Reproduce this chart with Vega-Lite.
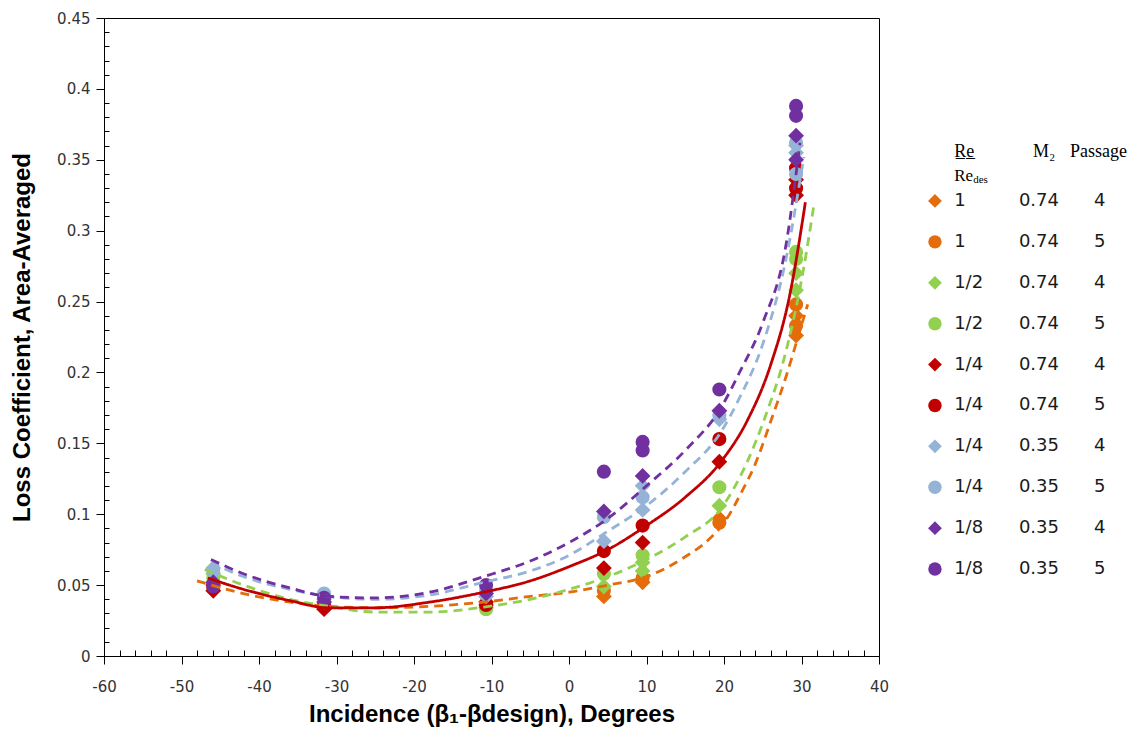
{
  "$schema": "https://vega.github.io/schema/vega-lite/v6.json",
  "background": "white",
  "padding": {"left": 10, "top": 10, "right": 0, "bottom": 0},
  "spacing": 11,
  "config": {"view": {"stroke": "black", "strokeWidth": 1}},
  "resolve": {"scale": {"x": "independent", "y": "independent", "color": "shared", "shape": "shared", "size": "independent"}},
  "datasets": {
    "points": [
      {"group": "1|0.74", "passage": "4", "incidence": -45.9, "loss": 0.050},
      {"group": "1|0.74", "passage": "4", "incidence": -31.6, "loss": 0.034},
      {"group": "1|0.74", "passage": "4", "incidence": -10.7, "loss": 0.036},
      {"group": "1|0.74", "passage": "4", "incidence": 4.5, "loss": 0.042},
      {"group": "1|0.74", "passage": "4", "incidence": 9.5, "loss": 0.052},
      {"group": "1|0.74", "passage": "4", "incidence": 19.4, "loss": 0.097},
      {"group": "1|0.74", "passage": "4", "incidence": 29.3, "loss": 0.240},
      {"group": "1|0.74", "passage": "4", "incidence": 29.3, "loss": 0.226},
      {"group": "1|0.74", "passage": "5", "incidence": -45.9, "loss": 0.048},
      {"group": "1|0.74", "passage": "5", "incidence": -31.6, "loss": 0.035},
      {"group": "1|0.74", "passage": "5", "incidence": -10.7, "loss": 0.037},
      {"group": "1|0.74", "passage": "5", "incidence": 4.5, "loss": 0.046},
      {"group": "1|0.74", "passage": "5", "incidence": 9.5, "loss": 0.055},
      {"group": "1|0.74", "passage": "5", "incidence": 19.4, "loss": 0.094},
      {"group": "1|0.74", "passage": "5", "incidence": 29.3, "loss": 0.248},
      {"group": "1|0.74", "passage": "5", "incidence": 29.3, "loss": 0.233},
      {"group": "1/2|0.74", "passage": "4", "incidence": -45.9, "loss": 0.058},
      {"group": "1/2|0.74", "passage": "4", "incidence": -31.6, "loss": 0.034},
      {"group": "1/2|0.74", "passage": "4", "incidence": -10.7, "loss": 0.034},
      {"group": "1/2|0.74", "passage": "4", "incidence": 4.5, "loss": 0.049},
      {"group": "1/2|0.74", "passage": "4", "incidence": 9.5, "loss": 0.060},
      {"group": "1/2|0.74", "passage": "4", "incidence": 9.5, "loss": 0.066},
      {"group": "1/2|0.74", "passage": "4", "incidence": 19.4, "loss": 0.106},
      {"group": "1/2|0.74", "passage": "4", "incidence": 29.3, "loss": 0.258},
      {"group": "1/2|0.74", "passage": "4", "incidence": 29.3, "loss": 0.270},
      {"group": "1/2|0.74", "passage": "5", "incidence": -45.9, "loss": 0.055},
      {"group": "1/2|0.74", "passage": "5", "incidence": -31.6, "loss": 0.036},
      {"group": "1/2|0.74", "passage": "5", "incidence": -10.7, "loss": 0.033},
      {"group": "1/2|0.74", "passage": "5", "incidence": 4.5, "loss": 0.058},
      {"group": "1/2|0.74", "passage": "5", "incidence": 9.5, "loss": 0.071},
      {"group": "1/2|0.74", "passage": "5", "incidence": 19.4, "loss": 0.119},
      {"group": "1/2|0.74", "passage": "5", "incidence": 29.3, "loss": 0.280},
      {"group": "1/2|0.74", "passage": "5", "incidence": 29.3, "loss": 0.285},
      {"group": "1/4|0.74", "passage": "4", "incidence": -45.9, "loss": 0.046},
      {"group": "1/4|0.74", "passage": "4", "incidence": -31.6, "loss": 0.033},
      {"group": "1/4|0.74", "passage": "4", "incidence": -10.7, "loss": 0.038},
      {"group": "1/4|0.74", "passage": "4", "incidence": 4.5, "loss": 0.062},
      {"group": "1/4|0.74", "passage": "4", "incidence": 9.5, "loss": 0.080},
      {"group": "1/4|0.74", "passage": "4", "incidence": 19.4, "loss": 0.137},
      {"group": "1/4|0.74", "passage": "4", "incidence": 29.3, "loss": 0.325},
      {"group": "1/4|0.74", "passage": "4", "incidence": 29.3, "loss": 0.336},
      {"group": "1/4|0.74", "passage": "5", "incidence": -45.9, "loss": 0.050},
      {"group": "1/4|0.74", "passage": "5", "incidence": -31.6, "loss": 0.036},
      {"group": "1/4|0.74", "passage": "5", "incidence": -10.7, "loss": 0.036},
      {"group": "1/4|0.74", "passage": "5", "incidence": 4.5, "loss": 0.074},
      {"group": "1/4|0.74", "passage": "5", "incidence": 9.5, "loss": 0.092},
      {"group": "1/4|0.74", "passage": "5", "incidence": 19.4, "loss": 0.153},
      {"group": "1/4|0.74", "passage": "5", "incidence": 29.3, "loss": 0.344},
      {"group": "1/4|0.74", "passage": "5", "incidence": 29.3, "loss": 0.330},
      {"group": "1/4|0.35", "passage": "4", "incidence": -45.9, "loss": 0.062},
      {"group": "1/4|0.35", "passage": "4", "incidence": -31.6, "loss": 0.040},
      {"group": "1/4|0.35", "passage": "4", "incidence": -10.7, "loss": 0.042},
      {"group": "1/4|0.35", "passage": "4", "incidence": 4.5, "loss": 0.081},
      {"group": "1/4|0.35", "passage": "4", "incidence": 9.5, "loss": 0.103},
      {"group": "1/4|0.35", "passage": "4", "incidence": 9.5, "loss": 0.120},
      {"group": "1/4|0.35", "passage": "4", "incidence": 19.4, "loss": 0.167},
      {"group": "1/4|0.35", "passage": "4", "incidence": 29.3, "loss": 0.355},
      {"group": "1/4|0.35", "passage": "4", "incidence": 29.3, "loss": 0.360},
      {"group": "1/4|0.35", "passage": "5", "incidence": -45.9, "loss": 0.060},
      {"group": "1/4|0.35", "passage": "5", "incidence": -31.6, "loss": 0.044},
      {"group": "1/4|0.35", "passage": "5", "incidence": -10.7, "loss": 0.046},
      {"group": "1/4|0.35", "passage": "5", "incidence": 4.5, "loss": 0.098},
      {"group": "1/4|0.35", "passage": "5", "incidence": 9.5, "loss": 0.112},
      {"group": "1/4|0.35", "passage": "5", "incidence": 19.4, "loss": 0.170},
      {"group": "1/4|0.35", "passage": "5", "incidence": 29.3, "loss": 0.340},
      {"group": "1/4|0.35", "passage": "5", "incidence": 29.3, "loss": 0.362},
      {"group": "1/8|0.35", "passage": "4", "incidence": -45.9, "loss": 0.052},
      {"group": "1/8|0.35", "passage": "4", "incidence": -31.6, "loss": 0.038},
      {"group": "1/8|0.35", "passage": "4", "incidence": -10.7, "loss": 0.044},
      {"group": "1/8|0.35", "passage": "4", "incidence": 4.5, "loss": 0.102},
      {"group": "1/8|0.35", "passage": "4", "incidence": 9.5, "loss": 0.127},
      {"group": "1/8|0.35", "passage": "4", "incidence": 19.4, "loss": 0.173},
      {"group": "1/8|0.35", "passage": "4", "incidence": 29.3, "loss": 0.367},
      {"group": "1/8|0.35", "passage": "4", "incidence": 29.3, "loss": 0.350},
      {"group": "1/8|0.35", "passage": "5", "incidence": -45.9, "loss": 0.049},
      {"group": "1/8|0.35", "passage": "5", "incidence": -31.6, "loss": 0.041},
      {"group": "1/8|0.35", "passage": "5", "incidence": -10.7, "loss": 0.050},
      {"group": "1/8|0.35", "passage": "5", "incidence": 4.5, "loss": 0.130},
      {"group": "1/8|0.35", "passage": "5", "incidence": 9.5, "loss": 0.145},
      {"group": "1/8|0.35", "passage": "5", "incidence": 9.5, "loss": 0.151},
      {"group": "1/8|0.35", "passage": "5", "incidence": 19.4, "loss": 0.188},
      {"group": "1/8|0.35", "passage": "5", "incidence": 29.3, "loss": 0.388},
      {"group": "1/8|0.35", "passage": "5", "incidence": 29.3, "loss": 0.381}
    ],
    "fits": [
      {"group": "1|0.74", "incidence": -48, "loss": 0.053},
      {"group": "1|0.74", "incidence": -42, "loss": 0.044},
      {"group": "1|0.74", "incidence": -36, "loss": 0.038},
      {"group": "1|0.74", "incidence": -31, "loss": 0.035},
      {"group": "1|0.74", "incidence": -25, "loss": 0.034},
      {"group": "1|0.74", "incidence": -18, "loss": 0.035},
      {"group": "1|0.74", "incidence": -11, "loss": 0.038},
      {"group": "1|0.74", "incidence": -5, "loss": 0.042},
      {"group": "1|0.74", "incidence": 0, "loss": 0.045},
      {"group": "1|0.74", "incidence": 5, "loss": 0.050},
      {"group": "1|0.74", "incidence": 10, "loss": 0.056},
      {"group": "1|0.74", "incidence": 15, "loss": 0.070},
      {"group": "1|0.74", "incidence": 18, "loss": 0.082},
      {"group": "1|0.74", "incidence": 20, "loss": 0.094},
      {"group": "1|0.74", "incidence": 22.4, "loss": 0.117},
      {"group": "1|0.74", "incidence": 24, "loss": 0.135},
      {"group": "1|0.74", "incidence": 26, "loss": 0.165},
      {"group": "1|0.74", "incidence": 28, "loss": 0.197},
      {"group": "1|0.74", "incidence": 29.5, "loss": 0.224},
      {"group": "1|0.74", "incidence": 30.8, "loss": 0.248},
      {"group": "1/2|0.74", "incidence": -47, "loss": 0.061},
      {"group": "1/2|0.74", "incidence": -42, "loss": 0.050},
      {"group": "1/2|0.74", "incidence": -36, "loss": 0.040},
      {"group": "1/2|0.74", "incidence": -31, "loss": 0.035},
      {"group": "1/2|0.74", "incidence": -25, "loss": 0.031},
      {"group": "1/2|0.74", "incidence": -18, "loss": 0.031},
      {"group": "1/2|0.74", "incidence": -11, "loss": 0.0345},
      {"group": "1/2|0.74", "incidence": -5, "loss": 0.040},
      {"group": "1/2|0.74", "incidence": 0, "loss": 0.047},
      {"group": "1/2|0.74", "incidence": 5, "loss": 0.056},
      {"group": "1/2|0.74", "incidence": 10, "loss": 0.068},
      {"group": "1/2|0.74", "incidence": 15, "loss": 0.084},
      {"group": "1/2|0.74", "incidence": 19.6, "loss": 0.104},
      {"group": "1/2|0.74", "incidence": 23, "loss": 0.137},
      {"group": "1/2|0.74", "incidence": 25.2, "loss": 0.167},
      {"group": "1/2|0.74", "incidence": 28, "loss": 0.215},
      {"group": "1/2|0.74", "incidence": 30, "loss": 0.265},
      {"group": "1/2|0.74", "incidence": 31.6, "loss": 0.318},
      {"group": "1/4|0.74", "incidence": -46.6, "loss": 0.055},
      {"group": "1/4|0.74", "incidence": -42, "loss": 0.047},
      {"group": "1/4|0.74", "incidence": -36, "loss": 0.039},
      {"group": "1/4|0.74", "incidence": -31, "loss": 0.034},
      {"group": "1/4|0.74", "incidence": -25, "loss": 0.034},
      {"group": "1/4|0.74", "incidence": -18, "loss": 0.038},
      {"group": "1/4|0.74", "incidence": -11, "loss": 0.045},
      {"group": "1/4|0.74", "incidence": -5, "loss": 0.053},
      {"group": "1/4|0.74", "incidence": 0, "loss": 0.063},
      {"group": "1/4|0.74", "incidence": 5, "loss": 0.075},
      {"group": "1/4|0.74", "incidence": 10, "loss": 0.092},
      {"group": "1/4|0.74", "incidence": 15, "loss": 0.112},
      {"group": "1/4|0.74", "incidence": 19.6, "loss": 0.137},
      {"group": "1/4|0.74", "incidence": 23, "loss": 0.166},
      {"group": "1/4|0.74", "incidence": 26, "loss": 0.205},
      {"group": "1/4|0.74", "incidence": 28.5, "loss": 0.255},
      {"group": "1/4|0.74", "incidence": 30.5, "loss": 0.320},
      {"group": "1/4|0.35", "incidence": -46.2, "loss": 0.066},
      {"group": "1/4|0.35", "incidence": -42, "loss": 0.056},
      {"group": "1/4|0.35", "incidence": -36, "loss": 0.047},
      {"group": "1/4|0.35", "incidence": -31, "loss": 0.042},
      {"group": "1/4|0.35", "incidence": -25, "loss": 0.040},
      {"group": "1/4|0.35", "incidence": -18, "loss": 0.043},
      {"group": "1/4|0.35", "incidence": -11, "loss": 0.052},
      {"group": "1/4|0.35", "incidence": -5, "loss": 0.060},
      {"group": "1/4|0.35", "incidence": 0, "loss": 0.071},
      {"group": "1/4|0.35", "incidence": 5, "loss": 0.088},
      {"group": "1/4|0.35", "incidence": 10, "loss": 0.106},
      {"group": "1/4|0.35", "incidence": 15, "loss": 0.130},
      {"group": "1/4|0.35", "incidence": 19.6, "loss": 0.158},
      {"group": "1/4|0.35", "incidence": 22, "loss": 0.182},
      {"group": "1/4|0.35", "incidence": 25, "loss": 0.220},
      {"group": "1/4|0.35", "incidence": 28, "loss": 0.280},
      {"group": "1/4|0.35", "incidence": 30.3, "loss": 0.352},
      {"group": "1/8|0.35", "incidence": -46.2, "loss": 0.068},
      {"group": "1/8|0.35", "incidence": -42, "loss": 0.058},
      {"group": "1/8|0.35", "incidence": -36, "loss": 0.048},
      {"group": "1/8|0.35", "incidence": -31, "loss": 0.042},
      {"group": "1/8|0.35", "incidence": -25, "loss": 0.041},
      {"group": "1/8|0.35", "incidence": -18, "loss": 0.045},
      {"group": "1/8|0.35", "incidence": -11, "loss": 0.056},
      {"group": "1/8|0.35", "incidence": -5, "loss": 0.067},
      {"group": "1/8|0.35", "incidence": 0, "loss": 0.080},
      {"group": "1/8|0.35", "incidence": 5, "loss": 0.097},
      {"group": "1/8|0.35", "incidence": 10, "loss": 0.120},
      {"group": "1/8|0.35", "incidence": 15, "loss": 0.145},
      {"group": "1/8|0.35", "incidence": 19.6, "loss": 0.175},
      {"group": "1/8|0.35", "incidence": 22, "loss": 0.200},
      {"group": "1/8|0.35", "incidence": 25, "loss": 0.235},
      {"group": "1/8|0.35", "incidence": 28, "loss": 0.290},
      {"group": "1/8|0.35", "incidence": 29.8, "loss": 0.362}
    ],
    "legend": [
      {"group": "1|0.74", "passage": "4", "re": "1", "m2": "0.74", "order": 1},
      {"group": "1|0.74", "passage": "5", "re": "1", "m2": "0.74", "order": 2},
      {"group": "1/2|0.74", "passage": "4", "re": "1/2", "m2": "0.74", "order": 3},
      {"group": "1/2|0.74", "passage": "5", "re": "1/2", "m2": "0.74", "order": 4},
      {"group": "1/4|0.74", "passage": "4", "re": "1/4", "m2": "0.74", "order": 5},
      {"group": "1/4|0.74", "passage": "5", "re": "1/4", "m2": "0.74", "order": 6},
      {"group": "1/4|0.35", "passage": "4", "re": "1/4", "m2": "0.35", "order": 7},
      {"group": "1/4|0.35", "passage": "5", "re": "1/4", "m2": "0.35", "order": 8},
      {"group": "1/8|0.35", "passage": "4", "re": "1/8", "m2": "0.35", "order": 9},
      {"group": "1/8|0.35", "passage": "5", "re": "1/8", "m2": "0.35", "order": 10}
    ]
  },
  "hconcat": [
    {
      "width": 775,
      "height": 638,
      "layer": [
        {
          "data": {"name": "points"},
          "mark": {"type": "point", "filled": true, "opacity": 1},
          "encoding": {
            "x": {
              "field": "incidence", "type": "quantitative",
              "scale": {"domain": [-60, 40], "nice": false, "zero": false},
              "axis": {
                "values": [-60,-58,-56,-54,-52,-50,-48,-46,-44,-42,-40,-38,-36,-34,-32,-30,-28,-26,-24,-22,-20,-18,-16,-14,-12,-10,-8,-6,-4,-2,0,2,4,6,8,10,12,14,16,18,20,22,24,26,28,30,32,34,36,38,40],
                "tickCount": 200,
                "labelExpr": "datum.value % 10 === 0 ? '' + datum.value : ''",
                "tickSize": {"condition": {"test": "datum.value % 10 === 0", "value": 8}, "value": -6},
                "labelOverlap": false, "labelFlush": false, "labelBound": false,
                "grid": false, "domainColor": "black", "tickColor": "black", "tickWidth": 1, "domainWidth": 1,
                "labelFont": "DejaVu Sans", "labelFontSize": 15, "labelColor": "#333333", "labelPadding": 15,
                "title": "Incidence (β₁-βdesign), Degrees",
                "titleFont": "Liberation Sans", "titleFontSize": 24, "titleFontWeight": "bold", "titleColor": "black", "titlePadding": 8
              }
            },
            "y": {
              "field": "loss", "type": "quantitative",
              "scale": {"domain": [0, 0.45], "nice": false},
              "axis": {
                "values": [0,0.01,0.02,0.03,0.04,0.05,0.06,0.07,0.08,0.09,0.1,0.11,0.12,0.13,0.14,0.15,0.16,0.17,0.18,0.19,0.2,0.21,0.22,0.23,0.24,0.25,0.26,0.27,0.28,0.29,0.3,0.31,0.32,0.33,0.34,0.35,0.36,0.37,0.38,0.39,0.4,0.41,0.42,0.43,0.44,0.45],
                "tickCount": 200,
                "labelExpr": "round(datum.value * 100) % 5 === 0 ? '' + datum.value : ''",
                "tickSize": {"condition": {"test": "round(datum.value * 100) % 5 === 0", "value": 8}, "value": -5},
                "labelOverlap": false, "labelFlush": false, "labelBound": false,
                "grid": false, "domainColor": "black", "tickColor": "black", "tickWidth": 1, "domainWidth": 1,
                "labelFont": "DejaVu Sans", "labelFontSize": 15, "labelColor": "#333333", "labelPadding": 6,
                "title": "Loss Coefficient, Area-Averaged",
                "titleFont": "Liberation Sans", "titleFontSize": 24, "titleFontWeight": "bold", "titleColor": "black", "titlePadding": 22
              }
            },
            "color": {
              "field": "group", "type": "nominal", "legend": null,
              "scale": {"domain": ["1|0.74", "1/2|0.74", "1/4|0.74", "1/4|0.35", "1/8|0.35"], "range": ["#E46C0A", "#92D050", "#C00000", "#95B3D7", "#7030A0"]}
            },
            "shape": {
              "field": "passage", "type": "nominal", "legend": null,
              "scale": {"domain": ["4", "5"], "range": ["diamond", "circle"]}
            },
            "size": {
              "field": "passage", "type": "nominal", "legend": null,
              "scale": {"domain": ["4", "5"], "range": [250, 200]}
            }
          }
        },
        {
          "data": {"name": "fits"},
          "mark": {"type": "line", "strokeWidth": 2.8, "interpolate": "monotone"},
          "encoding": {
            "x": {"field": "incidence", "type": "quantitative"},
            "y": {"field": "loss", "type": "quantitative"},
            "color": {"field": "group", "type": "nominal", "legend": null},
            "strokeDash": {
              "field": "group", "type": "nominal", "legend": null,
              "scale": {"domain": ["1|0.74", "1/2|0.74", "1/4|0.74", "1/4|0.35", "1/8|0.35"], "range": [[9, 6], [9, 6], [1, 0], [9, 6], [9, 6]]}
            }
          }
        }
      ]
    },
    {
      "width": 231,
      "height": 638,
      "view": {"stroke": null},
      "layer": [
        {
          "data": {"name": "legend"},
          "mark": {"type": "point", "filled": true, "opacity": 1},
          "encoding": {
            "x": {"datum": 1.47, "type": "quantitative", "scale": {"domain": [0, 10], "nice": false, "zero": false}, "axis": null},
            "y": {"field": "order", "type": "quantitative", "scale": {"domain": [-3.474, 12.126], "reverse": true, "nice": false, "zero": false}, "axis": null},
            "color": {"field": "group", "type": "nominal", "legend": null},
            "shape": {"field": "passage", "type": "nominal", "legend": null},
            "size": {"field": "passage", "type": "nominal", "legend": null, "scale": {"domain": ["4", "5"], "range": [190, 180]}}
          }
        },
        {
          "data": {"name": "legend"},
          "mark": {"type": "text", "align": "left", "baseline": "middle", "font": "DejaVu Sans", "fontSize": 18, "color": "#1a1a1a"},
          "encoding": {
            "x": {"datum": 2.3, "type": "quantitative"},
            "y": {"field": "order", "type": "quantitative"},
            "text": {"field": "re"}
          }
        },
        {
          "data": {"name": "legend"},
          "mark": {"type": "text", "align": "center", "baseline": "middle", "font": "DejaVu Sans", "fontSize": 18, "color": "#1a1a1a"},
          "encoding": {
            "x": {"datum": 5.97, "type": "quantitative"},
            "y": {"field": "order", "type": "quantitative"},
            "text": {"field": "m2"}
          }
        },
        {
          "data": {"name": "legend"},
          "mark": {"type": "text", "align": "center", "baseline": "middle", "font": "DejaVu Sans", "fontSize": 18, "color": "#1a1a1a"},
          "encoding": {
            "x": {"datum": 8.6, "type": "quantitative"},
            "y": {"field": "order", "type": "quantitative"},
            "text": {"field": "passage"}
          }
        },
        {
          "data": {"values": [{}]},
          "mark": {"type": "text", "align": "left", "baseline": "middle", "font": "Liberation Serif", "fontSize": 18, "color": "black", "text": "R\u0332e\u0332"},
          "encoding": {
            "x": {"datum": 2.3, "type": "quantitative"},
            "y": {"datum": -0.2, "type": "quantitative"}
          }
        },
        {
          "data": {"values": [{}]},
          "mark": {"type": "text", "align": "left", "baseline": "middle", "font": "Liberation Serif", "fontSize": 17, "color": "black", "text": "Re"},
          "encoding": {
            "x": {"datum": 2.3, "type": "quantitative"},
            "y": {"datum": 0.38, "type": "quantitative"}
          }
        },
        {
          "data": {"values": [{}]},
          "mark": {"type": "text", "align": "left", "baseline": "middle", "font": "Liberation Serif", "fontSize": 11, "color": "black", "text": "des", "dx": 19, "dy": 4},
          "encoding": {
            "x": {"datum": 2.3, "type": "quantitative"},
            "y": {"datum": 0.38, "type": "quantitative"}
          }
        },
        {
          "data": {"values": [{}]},
          "mark": {"type": "text", "align": "center", "baseline": "middle", "font": "Liberation Serif", "fontSize": 18, "color": "black", "text": "M₂"},
          "encoding": {
            "x": {"datum": 6.2, "type": "quantitative"},
            "y": {"datum": -0.2, "type": "quantitative"}
          }
        },
        {
          "data": {"values": [{}]},
          "mark": {"type": "text", "align": "center", "baseline": "middle", "font": "Liberation Serif", "fontSize": 18, "color": "black", "text": "Passage"},
          "encoding": {
            "x": {"datum": 8.55, "type": "quantitative"},
            "y": {"datum": -0.2, "type": "quantitative"}
          }
        }
      ]
    }
  ]
}
